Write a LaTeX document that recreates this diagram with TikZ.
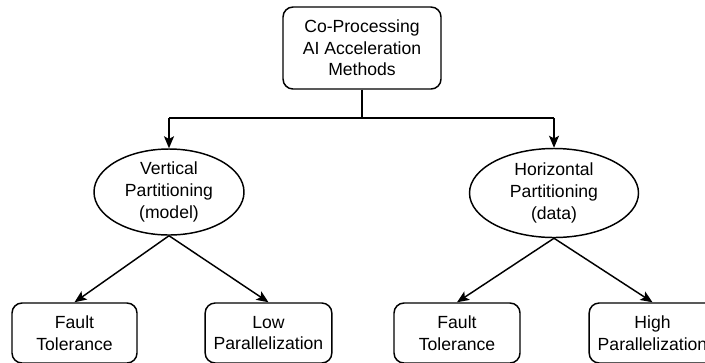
\documentclass[tikz,border=0pt]{standalone}
\usepackage{fontspec}
\setmainfont{Liberation Sans}
\usetikzlibrary{shapes.geometric,arrows.meta}
\begin{document}
\begin{tikzpicture}[x=0.75pt,y=-0.75pt,
  every node/.style={font=\fontsize{13.2}{16.2}\selectfont, align=center, inner sep=0pt},
  rbox/.style={draw, line width=1.1pt, rounded corners=7.5pt},
  ell/.style={draw, line width=1.1pt, ellipse},
  conn/.style={line width=1.1pt},
  arr/.style={line width=1.1pt, -{Stealth[length=9pt,width=7.5pt,inset=2pt]}}]
\useasboundingbox (0,0) rectangle (705,362);
\begin{scope}
\clip (0,0) rectangle (705,362);
\node[rbox, minimum width=118.5pt, minimum height=61.5pt] (top) at (362,48) {Co-Processing\\AI Acceleration\\Methods};
\node[ell, minimum width=112.5pt, minimum height=64.5pt] (vp) at (169,192) {Vertical\\Partitioning\\(model)};
\node[ell, minimum width=126.75pt, minimum height=66.75pt] (hp) at (554,193) {Horizontal\\Partitioning\\(data)};
\node[rbox, minimum width=93.75pt, minimum height=45pt] (ft1) at (74.5,333) {Fault\\Tolerance};
\node[rbox, minimum width=95pt, minimum height=45pt] (lp) at (268.5,333) {Low\\Parallelization};
\node[rbox, minimum width=94.5pt, minimum height=45pt] (ft2) at (457,333) {Fault\\Tolerance};
\node[rbox, minimum width=95pt, minimum height=45pt] (hpar) at (652.5,333) {High\\Parallelization};
\coordinate (j) at (362,118);
\coordinate (jl) at (169,118);
\coordinate (jr) at (554,118);
\draw[conn] (top.south) -- (j);
\draw[conn] (jl) -- (jr);
\draw[arr] (jl) -- (vp.north);
\draw[arr] (jr) -- (hp.north);
\draw[arr] (vp.south) -- (ft1.north);
\draw[arr] (vp.south) -- (lp.north);
\draw[arr] (hp.south) -- (ft2.north);
\draw[arr] (hp.south) -- (hpar.north);
\end{scope}
\end{tikzpicture}
\end{document}
